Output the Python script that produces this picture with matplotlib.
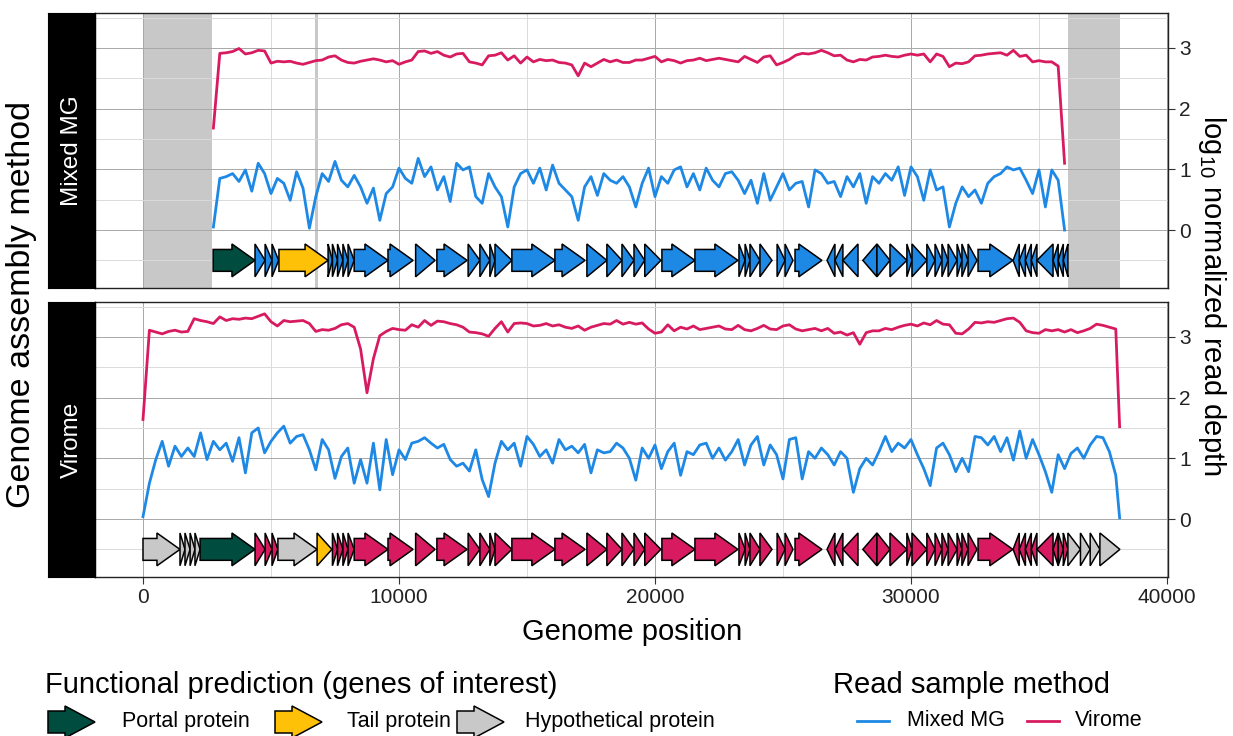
import numpy as np
import matplotlib.pyplot as plt
from matplotlib.patches import Polygon

plt.rcParams['font.family'] = ['Liberation Sans', 'DejaVu Sans']
plt.rcParams['mathtext.default'] = 'regular'

BLUE = '#1E88E5'
RED = '#D81B60'
GENE_COLORS = {'portal': '#004D40', 'tail': '#FFC107', 'hyp': '#C8C8C8'}

# coverage tracks, binned every 250 bp (log10 normalized read depth)
mg_pos = np.arange(2750, 36001, 250)
mg_virome = [1.68, 2.91, 2.92, 2.94, 2.99, 2.90, 2.92, 2.96, 2.95, 2.75, 2.78, 2.77, 2.78, 2.75, 2.73, 2.76, 2.79,
             2.80, 2.85, 2.87, 2.80, 2.76, 2.75, 2.78, 2.80, 2.82, 2.80, 2.77, 2.79, 2.73, 2.77, 2.80, 2.94, 2.95,
             2.91, 2.94, 2.88, 2.85, 2.90, 2.91, 2.77, 2.75, 2.72, 2.87, 2.88, 2.92, 2.80, 2.87, 2.75, 2.85, 2.77,
             2.81, 2.79, 2.80, 2.76, 2.75, 2.72, 2.54, 2.75, 2.69, 2.75, 2.81, 2.77, 2.80, 2.76, 2.76, 2.80,
             2.80, 2.83, 2.86, 2.77, 2.81, 2.79, 2.75, 2.79, 2.80, 2.83, 2.79, 2.81, 2.83, 2.81, 2.79, 2.77, 2.86,
             2.81, 2.76, 2.85, 2.87, 2.72, 2.76, 2.81, 2.88, 2.91, 2.90, 2.92, 2.96, 2.92, 2.87, 2.88, 2.80, 2.77,
             2.81, 2.80, 2.85, 2.86, 2.88, 2.86, 2.85, 2.88, 2.90, 2.88, 2.90, 2.77, 2.90, 2.86, 2.69, 2.75, 2.74,
             2.77, 2.87, 2.88, 2.90, 2.91, 2.92, 2.88, 2.96, 2.86, 2.88, 2.77, 2.79, 2.77, 2.77, 2.70, 1.10]
mg_mixed = [0.05, 0.85, 0.88, 0.93, 0.80, 0.99, 0.64, 1.10, 0.93, 0.60, 0.85, 0.77, 0.49, 0.96, 0.69, 0.03, 0.55,
            0.93, 0.80, 1.13, 0.82, 0.71, 0.90, 0.71, 0.44, 0.69, 0.16, 0.60, 0.71, 1.02, 0.85, 0.77, 1.18, 0.88,
            1.04, 0.66, 0.88, 0.47, 1.10, 0.99, 1.04, 0.55, 0.44, 0.93, 0.71, 0.55, 0.05, 0.71, 0.93, 0.99, 0.77,
            1.02, 0.66, 1.07, 0.77, 0.66, 0.55, 0.16, 0.71, 0.88, 0.57, 0.93, 0.82, 0.77, 0.88, 0.71, 0.38,
            0.77, 1.02, 0.55, 0.88, 0.77, 0.99, 1.04, 0.71, 0.93, 0.66, 1.02, 0.82, 0.71, 0.93, 0.96, 0.82, 0.60,
            0.82, 0.44, 0.93, 0.49, 0.71, 0.93, 0.66, 0.77, 0.80, 0.38, 0.99, 0.93, 0.77, 0.80, 0.55, 0.88, 0.71,
            0.93, 0.44, 0.88, 0.77, 0.93, 0.82, 1.04, 0.57, 1.04, 0.88, 0.49, 0.99, 0.66, 0.71, 0.05, 0.44, 0.71,
            0.55, 0.66, 0.44, 0.77, 0.88, 0.93, 1.04, 0.99, 1.02, 0.82, 0.60, 0.99, 0.38, 0.99, 0.82, 0.00]

vir_pos = np.append(np.arange(0, 38001, 250), 38150)
vir_virome = [1.64, 3.11, 3.08, 3.05, 3.09, 3.11, 3.08, 3.09, 3.30, 3.27, 3.25, 3.22, 3.33, 3.27, 3.30, 3.29, 3.31,
              3.30, 3.34, 3.38, 3.25, 3.18, 3.27, 3.25, 3.26, 3.27, 3.22, 3.09, 3.12, 3.11, 3.14, 3.20, 3.22, 3.16,
              2.80, 2.08, 2.64, 3.02, 3.09, 3.14, 3.12, 3.11, 3.20, 3.16, 3.27, 3.19, 3.26, 3.25, 3.22, 3.20, 3.16,
              3.08, 3.07, 3.05, 3.01, 3.14, 3.25, 3.08, 3.22, 3.23, 3.22, 3.18, 3.19, 3.22, 3.18, 3.20, 3.16, 3.14,
              3.18, 3.11, 3.16, 3.19, 3.22,
              3.21, 3.27, 3.21, 3.24, 3.21, 3.23, 3.13, 3.06, 3.08, 3.20, 3.10, 3.16, 3.13, 3.18, 3.12, 3.14, 3.16,
              3.18, 3.13, 3.12, 3.19, 3.12, 3.10, 3.14, 3.19, 3.13, 3.12, 3.18, 3.20, 3.13, 3.10, 3.12, 3.14, 3.10,
              3.14, 3.06, 3.08, 3.03, 3.07, 2.88, 3.07, 3.10, 3.10, 3.14, 3.12, 3.16, 3.19, 3.21, 3.18, 3.23, 3.20,
              3.27, 3.21, 3.20, 3.06, 3.05, 3.13, 3.24, 3.23, 3.25, 3.24, 3.27, 3.30, 3.31, 3.24, 3.10, 3.07, 3.06,
              3.12, 3.10, 3.12, 3.08, 3.12, 3.07, 3.10, 3.14, 3.21, 3.19, 3.16, 3.13, 1.52]
vir_mixed = [0.04, 0.59, 0.98, 1.28, 0.87, 1.20, 1.03, 1.17, 1.03, 1.42, 0.98, 1.28, 1.14, 1.25, 0.95, 1.34, 0.76,
             1.42, 1.50, 1.09, 1.28, 1.42, 1.53, 1.25, 1.36, 1.39, 1.14, 0.81, 1.31, 1.14, 0.67, 1.03, 1.17, 0.59,
             0.98, 0.59, 1.25, 0.48, 1.31, 0.73, 1.14, 0.98, 1.25, 1.28, 1.34, 1.25, 1.17, 1.23, 0.98, 0.87, 0.92,
             0.79, 1.14, 0.65, 0.37, 0.92, 1.28, 1.14, 1.25, 0.87, 1.36, 1.23, 1.03, 1.14, 0.92, 1.31, 1.14, 1.20,
             1.09, 1.23, 0.76, 1.14, 1.09,
             1.11, 1.25, 1.17, 1.00, 0.64, 1.17, 1.00, 1.22, 0.83, 1.11, 1.25, 0.72, 1.11, 1.06, 1.22, 1.25, 1.00,
             1.17, 0.97, 1.11, 1.31, 0.89, 1.22, 1.36, 0.89, 1.22, 1.06, 0.66, 1.31, 1.34, 0.66, 1.11, 1.00, 1.17,
             1.06, 0.89, 1.11, 1.00, 0.44, 0.83, 1.00, 0.89, 1.11, 1.36, 1.11, 1.25, 1.17, 1.31, 1.06, 0.83, 0.55,
             1.17, 1.25, 1.06, 0.78, 1.00, 0.78, 1.36, 1.34, 1.22, 1.36, 1.11, 1.34, 0.97, 1.45, 1.00, 1.31, 1.06,
             0.78, 0.44, 1.06, 0.83, 1.08, 1.17, 1.00, 1.22, 1.36, 1.34, 1.11, 0.72, 0.02]

# gene annotations (start, end, strand, type); core genes are shared by both assemblies
core_genes = [
    (7400, 7600, 1, 'other'), (7600, 7810, 1, 'other'), (7810, 8010, 1, 'other'), (8010, 8250, 1, 'other'),
    (8250, 9570, 1, 'other'), (9570, 10550, 1, 'other'), (10650, 11410, 1, 'other'), (11480, 12660, 1, 'other'),
    (12700, 13160, 1, 'other'), (13160, 13550, 1, 'other'), (13550, 13750, 1, 'other'), (13750, 14410, 1, 'other'),
    (14410, 16090, 1, 'other'), (16090, 17270, 1, 'other'),
    (17340, 18120, 1, 'other'), (18120, 18710, 1, 'other'), (18710, 19180, 1, 'other'), (19180, 19600, 1, 'other'),
    (19600, 20230, 1, 'other'), (20270, 21560, 1, 'other'), (21560, 23240, 1, 'other'),
    (23280, 23520, 1, 'other'), (23520, 23710, 1, 'other'), (23710, 24100, 1, 'other'), (24100, 24570, 1, 'other'),
    (24770, 25080, 1, 'other'), (25080, 25390, 1, 'other'), (25470, 26520, 1, 'other'),
    (26720, 27030, -1, 'other'), (27030, 27340, -1, 'other'), (27340, 27930, -1, 'other'),
    (28120, 28670, -1, 'other'), (28670, 29180, 1, 'other'),
    (29180, 29840, 1, 'other'), (29840, 30040, 1, 'other'), (30040, 30620, 1, 'other'), (30620, 30940, 1, 'other'),
    (30940, 31210, 1, 'other'), (31210, 31450, 1, 'other'), (31450, 31800, 1, 'other'), (31800, 31990, 1, 'other'),
    (31990, 32230, 1, 'other'), (32230, 32580, 1, 'other'), (32620, 33980, 1, 'other'),
    (33990, 34230, -1, 'other'), (34230, 34470, -1, 'other'), (34470, 34700, -1, 'other'), (34700, 34920, -1, 'other'),
    (34920, 35550, -1, 'other'),
]
mg_genes = ([(2740, 4375, 1, 'portal'), (4375, 4770, 1, 'other'), (4770, 5040, 1, 'other'), (5040, 5300, 1, 'other'),
             (5310, 7230, 1, 'tail'), (7230, 7400, 1, 'other')]
            + core_genes
            + [(35550, 35750, -1, 'other'), (35750, 35950, -1, 'other'), (35950, 36130, -1, 'other')])
vir_genes = ([(0, 1445, 1, 'hyp'), (1445, 1640, 1, 'hyp'), (1640, 1840, 1, 'hyp'), (1840, 2030, 1, 'hyp'),
              (2030, 2230, 1, 'hyp'), (2230, 4375, 1, 'portal'), (4375, 4770, 1, 'other'), (4770, 5040, 1, 'other'),
              (5040, 5270, 1, 'other'), (5270, 6800, 1, 'hyp'), (6800, 7380, 1, 'tail')]
             + core_genes
             + [(35550, 35750, -1, 'other'), (35750, 35950, 1, 'other'), (35950, 36130, 1, 'other'),
                (36130, 36620, 1, 'hyp'), (36620, 37000, 1, 'hyp'), (37000, 37380, 1, 'hyp'), (37380, 38160, 1, 'hyp')])

# regions of the virome genome missing from the mixed MG assembly
mg_missing = [(0, 2700), (6730, 6850), (36130, 38160)]

W, H = 1233, 736
fig = plt.figure(figsize=(W / 100, H / 100), dpi=100)


def box(l, t, r, b):
    return [l / W, 1 - b / H, (r - l) / W, (b - t) / H]


def arrow(ax, start, end, strand, color, yc=-0.5, head_len=900, body_h=0.36, head_h=0.54):
    x0, x1 = (start, end) if strand > 0 else (end, start)
    hl = min(head_len, end - start)
    neck = x1 - strand * hl
    pts = [(x0, yc - body_h / 2), (neck, yc - body_h / 2), (neck, yc - head_h / 2), (x1, yc),
           (neck, yc + head_h / 2), (neck, yc + body_h / 2), (x0, yc + body_h / 2)]
    ax.add_patch(Polygon(pts, closed=True, facecolor=color, edgecolor='black', lw=1.1, zorder=4,
                         joinstyle='miter'))


def panel(ax, strip_box, label, pos, mixed, virome, genes, base_color, show_x):
    ax.set_xlim(-1875, 40040)
    ax.set_ylim(-0.955, 3.575)
    ax.set_xticks(np.arange(0, 40001, 10000))
    ax.set_xticks(np.arange(5000, 40000, 10000), minor=True)
    ax.set_yticks([0, 1, 2, 3])
    ax.set_yticks([-0.5, 0.5, 1.5, 2.5, 3.5], minor=True)
    ax.set_axisbelow(True)
    ax.grid(True, which='major', color='#a8a8a8', lw=0.7)
    ax.grid(True, which='minor', color='#dadada', lw=0.7)
    ax.yaxis.tick_right()
    ax.tick_params(which='minor', length=0)
    ax.tick_params(axis='y', which='major', length=5, width=0.8, color='#333333', labelsize=15,
                   labelcolor='#222222', pad=3)
    if show_x:
        ax.tick_params(axis='x', which='major', length=5, width=0.8, color='#333333', labelsize=15,
                       labelcolor='#222222', pad=3)
    else:
        ax.tick_params(axis='x', which='both', bottom=False, labelbottom=False)
    for s in ax.spines.values():
        s.set_color('#222222')
        s.set_linewidth(1.0)

    ax.plot(pos, mixed, color=BLUE, lw=2.0, solid_joinstyle='round', zorder=3)
    ax.plot(pos, virome, color=RED, lw=2.0, solid_joinstyle='round', zorder=3)
    for start, end, strand, kind in genes:
        arrow(ax, start, end, strand, GENE_COLORS.get(kind, base_color))

    sax = fig.add_axes(strip_box)
    sax.set_facecolor('black')
    sax.set_xticks([])
    sax.set_yticks([])
    for s in sax.spines.values():
        s.set_color('black')
    sax.text(0.5, 0.5, label, color='white', fontsize=17.5, rotation=90, ha='center', va='center',
             transform=sax.transAxes)


ax_top = fig.add_axes(box(95, 13, 1168, 288))
for a, b in mg_missing:
    ax_top.axvspan(a, b, color='#c8c8c8', lw=0, zorder=0.3)
panel(ax_top, box(48, 13, 95, 288), 'Mixed MG', mg_pos, mg_mixed, mg_virome, mg_genes, BLUE, False)

ax_bot = fig.add_axes(box(95, 302, 1168, 577))
panel(ax_bot, box(48, 302, 95, 577), 'Virome', vir_pos, vir_mixed, vir_virome, vir_genes, RED, True)

fig.text(632 / W, 1 - 632 / H, 'Genome position', fontsize=21, ha='center', va='center')
fig.text(22 / W, 1 - 305 / H, 'Genome assembly method', fontsize=24.5, rotation=90, ha='center', va='center')
fig.text(1212 / W, 1 - 295 / H, 'log$_{10}$ normalized read depth', fontsize=21, rotation=270,
         ha='center', va='center')

# legends drawn in pixel space
lax = fig.add_axes([0, 0, 1, 1])
lax.set_xlim(0, W)
lax.set_ylim(H, 0)
lax.axis('off')


def legend_arrow(x0, color, yc=722, w=47, head=30, bh=22, hh=32):
    neck = x0 + w - head
    pts = [(x0, yc - bh / 2), (neck, yc - bh / 2), (neck, yc - hh / 2), (x0 + w, yc),
           (neck, yc + hh / 2), (neck, yc + bh / 2), (x0, yc + bh / 2)]
    lax.add_patch(Polygon(pts, closed=True, facecolor=color, edgecolor='black', lw=1.1))


lax.text(45, 685, 'Functional prediction (genes of interest)', fontsize=21, ha='left', va='center')
legend_arrow(48, GENE_COLORS['portal'])
lax.text(122, 721, 'Portal protein', fontsize=15.5, ha='left', va='center')
legend_arrow(275, GENE_COLORS['tail'])
lax.text(347, 721, 'Tail protein', fontsize=15.5, ha='left', va='center')
legend_arrow(457, GENE_COLORS['hyp'])
lax.text(525, 721, 'Hypothetical protein', fontsize=15.5, ha='left', va='center')

lax.text(833, 685, 'Read sample method', fontsize=21, ha='left', va='center')
lax.plot([857, 889], [721, 721], color=BLUE, lw=2.0)
lax.text(907, 721, 'Mixed MG', fontsize=15.5, ha='left', va='center')
lax.plot([1027, 1059], [721, 721], color=RED, lw=2.0)
lax.text(1075, 721, 'Virome', fontsize=15.5, ha='left', va='center')

fig.savefig('out.png', dpi=100)
